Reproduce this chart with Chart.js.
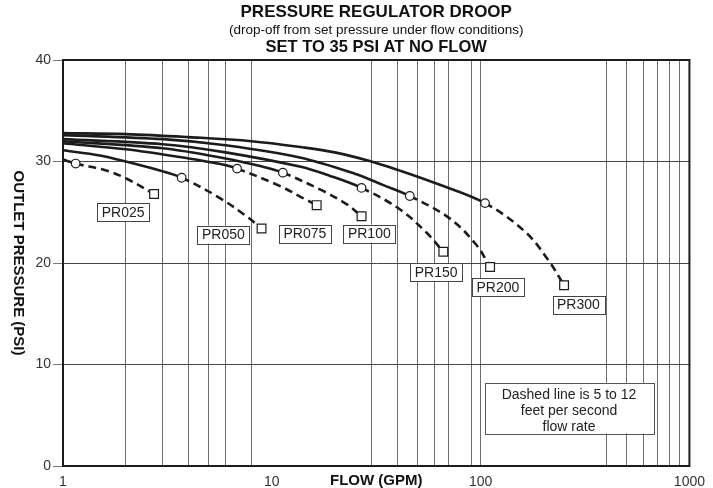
<!DOCTYPE html>
<html>
<head>
<meta charset="utf-8">
<script src="https://cdn.jsdelivr.net/npm/chart.js@4.4.1/dist/chart.umd.min.js"></script>
<style>
  html, body { margin: 0; padding: 0; background: #fff; }
</style>
</head>
<body>
<canvas id="droopChart" width="713" height="488"></canvas>
<script>
// regulator models, one curve each
const SERIES = ["PR025", "PR050", "PR075", "PR100", "PR150", "PR200", "PR300"];

// flow (GPM) / outlet pressure (PSI)
const flow025 = [1, 1.15, 1.62, 2.02, 2.73];
const psi025  = [30.2, 29.8, 29.1, 28.3, 26.8];
const flow050 = [1, 1.5, 2, 2.8, 3.7, 5.64, 7.57, 8.93];
const psi050  = [31.1, 30.6, 30.0, 29.2, 28.4, 26.4, 24.6, 23.4];
const flow075 = [1, 2, 4, 5.5, 6.82, 10.9, 14.1, 16.4];
const psi075  = [31.8, 31.2, 30.3, 29.8, 29.3, 27.6, 26.4, 25.7];
const flow100 = [1, 3, 6, 9, 11.3, 17.6, 22.8, 26.9];
const psi100  = [32.0, 31.3, 30.3, 29.5, 28.9, 27.1, 25.8, 24.6];
const flow150 = [1, 3, 6, 13.6, 18.9, 26.9, 41, 55, 66.3];
const psi150  = [32.2, 31.7, 30.9, 29.5, 28.6, 27.4, 25.3, 23.0, 21.1];
const flow200 = [1, 3, 6, 13.6, 25, 34, 45.8, 71.1, 95.3, 111];
const psi200  = [32.6, 32.2, 31.6, 30.4, 28.8, 27.7, 26.6, 24.4, 21.8, 19.6];
const flow300 = [1, 2, 4, 8, 14, 20, 30, 41, 60, 105, 165, 214, 251];
const psi300  = [32.8, 32.7, 32.4, 32.0, 31.4, 30.9, 30.0, 29.1, 27.9, 25.9, 23.0, 20.1, 17.8];

// index of the open circle where the dashed part begins
const kneeIndex = [1, 4, 4, 4, 5, 6, 9];

// where each model name sits (flow, psi)
const labelFlow = [1.94, 5.86, 14.4, 29.3, 61.2, 121, 294];
const labelPsi  = [25.0, 22.8, 22.9, 22.9, 19.1, 17.6, 15.9];

const gridFlows = [2, 3, 4, 5, 6, 8, 30, 40, 50, 60, 70, 90, 100, 400, 500, 600, 700, 800, 900];
const flowTicks = [1, 10, 100, 1000];
const psiTicks  = [0, 10, 20, 30, 40];

const NOTE = ["Dashed line is 5 to 12", "feet per second", "flow rate"];

const FLOWS = [flow025, flow050, flow075, flow100, flow150, flow200, flow300];
const PSIS  = [psi025, psi050, psi075, psi100, psi150, psi200, psi300];

const INK = '#1c1c1c';
const FONT = '"Liberation Sans", Arial, Helvetica, sans-serif';

function makeSet(i) {
  const flows = FLOWS[i], psis = PSIS[i], knee = kneeIndex[i], last = flows.length - 1;
  return {
    label: SERIES[i],
    data: flows.map((f, j) => ({ x: f, y: psis[j] })),
    borderColor: INK,
    borderWidth: 2.6,
    tension: 0.35,
    pointStyle: flows.map((f, j) => j === last ? 'rect' : 'circle'),
    pointRadius: flows.map((f, j) => j === last ? 6.2 : (j === knee ? 4.3 : 0)),
    pointBackgroundColor: '#fff',
    pointBorderColor: INK,
    pointBorderWidth: 1.2,
    segment: {
      borderDash: ctx => ctx.p0DataIndex >= knee ? [8, 5] : undefined
    },
    clip: false
  };
}

const decorPlugin = {
  id: 'decor',
  afterDraw(chart) {
    const { ctx, chartArea: a, scales } = chart;
    const xs = scales.x, ys = scales.y;
    ctx.save();

    // frame
    ctx.strokeStyle = INK;
    ctx.lineWidth = 2;
    ctx.strokeRect(a.left, a.top, a.right - a.left, a.bottom - a.top);

    // model labels
    ctx.font = '14px ' + FONT;
    ctx.textAlign = 'center';
    ctx.textBaseline = 'middle';
    SERIES.forEach((name, i) => {
      const px = xs.getPixelForValue(labelFlow[i]);
      const py = ys.getPixelForValue(labelPsi[i]);
      const w = ctx.measureText(name).width + 9;
      const h = 18;
      ctx.fillStyle = '#fff';
      ctx.fillRect(px - w / 2, py - h / 2, w, h);
      ctx.strokeStyle = '#444';
      ctx.lineWidth = 1;
      ctx.strokeRect(Math.round(px - w / 2) + 0.5, Math.round(py - h / 2) + 0.5, Math.round(w), h);
      ctx.fillStyle = '#222';
      ctx.fillText(name, px, py + 1);
    });

    // note box
    const nx1 = xs.getPixelForValue(104.5), nx2 = xs.getPixelForValue(672);
    const ny1 = ys.getPixelForValue(8.2), ny2 = ys.getPixelForValue(3.2);
    ctx.fillStyle = '#fff';
    ctx.fillRect(nx1, ny1, nx2 - nx1, ny2 - ny1);
    ctx.strokeStyle = '#555';
    ctx.strokeRect(Math.round(nx1) + 0.5, Math.round(ny1) + 0.5, Math.round(nx2 - nx1), Math.round(ny2 - ny1));
    ctx.fillStyle = '#222';
    NOTE.forEach((t, k) => ctx.fillText(t, (nx1 + nx2) / 2, ny1 + 12 + k * 16));

    // titles
    const cx = (a.left + a.right) / 2;
    ctx.fillStyle = '#111';
    ctx.font = 'bold 17px ' + FONT;
    ctx.fillText('PRESSURE REGULATOR DROOP', cx, 12);
    ctx.font = '13.5px ' + FONT;
    ctx.fillText('(drop-off from set pressure under flow conditions)', cx, 30);
    ctx.font = 'bold 16.5px ' + FONT;
    ctx.fillText('SET TO 35 PSI AT NO FLOW', cx, 47);

    // axis titles
    ctx.font = 'bold 15px ' + FONT;
    ctx.fillText('FLOW (GPM)', cx, 481);
    ctx.translate(18, (a.top + a.bottom) / 2);
    ctx.rotate(Math.PI / 2);
    ctx.fillText('OUTLET PRESSURE (PSI)', 0, 0);
    ctx.restore();
  }
};

const DROOP = document.getElementById('droopChart');

let droopChart = new Chart(DROOP, {
  type: 'line',
  data: { datasets: SERIES.map((s, i) => makeSet(i)) },
  options: {
    responsive: false,
    animation: false,
    devicePixelRatio: 1,
    layout: { padding: { top: 60, right: 23, left: 0, bottom: 0 } },
    plugins: { legend: { display: false }, tooltip: { enabled: false } },
    scales: {
      x: {
        type: 'logarithmic',
        min: 1,
        max: 1000,
        afterBuildTicks: axis => {
          const vals = [...new Set([...flowTicks, ...gridFlows])].sort((p, q) => p - q);
          axis.ticks = vals.map(v => ({ value: v }));
        },
        afterFit: axis => { axis.height = 22; },
        border: { display: false },
        grid: {
          drawTicks: false,
          lineWidth: 1,
          color: ctx => (ctx.tick && gridFlows.includes(ctx.tick.value)) ? '#6e6e6e' : 'rgba(0,0,0,0)'
        },
        ticks: {
          autoSkip: false,
          maxRotation: 0,
          padding: 8,
          color: '#333',
          font: { size: 14, family: FONT },
          callback: v => flowTicks.includes(v) ? String(v) : ''
        }
      },
      y: {
        min: 0,
        max: 40,
        afterBuildTicks: axis => { axis.ticks = psiTicks.map(v => ({ value: v })); },
        afterFit: axis => { axis.width = 63; },
        border: { display: false },
        grid: {
          tickLength: 10,
          tickColor: '#777',
          color: ctx => (ctx.tick && ctx.tick.value > 0 && ctx.tick.value < 40) ? '#444' : 'rgba(0,0,0,0)'
        },
        ticks: {
          padding: 2,
          color: '#333',
          font: { size: 14, family: FONT }
        }
      }
    }
  },
  plugins: [decorPlugin]
});
</script>
</body>
</html>
